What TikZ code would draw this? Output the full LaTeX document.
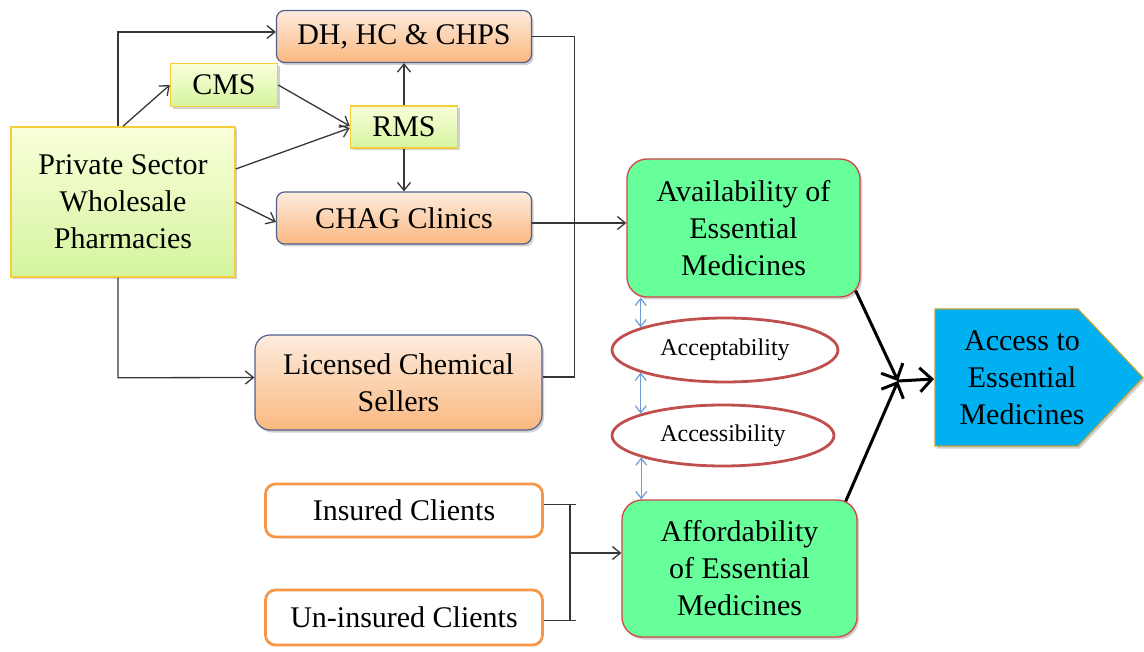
\documentclass[tikz,border=0pt]{standalone}
\usepackage{fontspec}
\setmainfont{Liberation Serif}
\usetikzlibrary{arrows.meta,shadows,shapes.geometric,calc}
\definecolor{orTop}{RGB}{253,236,222}
\definecolor{orBot}{RGB}{250,184,128}
\definecolor{boxblue}{RGB}{80,95,140}
\definecolor{ygTop}{RGB}{250,255,218}
\definecolor{ygBot}{RGB}{212,244,158}
\definecolor{ygBorder}{RGB}{245,205,60}
\definecolor{avGreen}{RGB}{102,255,153}
\definecolor{avRed}{RGB}{210,70,70}
\definecolor{ellRed}{RGB}{192,80,77}
\definecolor{clOrange}{RGB}{247,150,70}
\definecolor{accBlue}{RGB}{0,176,240}
\definecolor{accGold}{RGB}{196,160,48}
\definecolor{lineGray}{RGB}{55,55,55}
\definecolor{arrBlue}{RGB}{110,155,210}
\newcommand\mainfs{\fontsize{30}{37}\selectfont}
\newcommand\smallfs{\fontsize{24}{28}\selectfont}
\begin{document}
\begin{tikzpicture}[x=1pt,y=-1pt,
  every node/.style={inner sep=0pt, align=center, font=\mainfs},
  shad/.style={drop shadow={shadow xshift=2pt,shadow yshift=-2.5pt,opacity=0.3,fill=black!60}},
  orbox/.style={shape=rectangle, rounded corners=8pt, draw=boxblue, line width=1.2pt, top color=orTop, bottom color=orBot, shad},
  ygbox/.style={shape=rectangle, draw=ygBorder, line width=1.5pt, top color=ygTop, bottom color=ygBot, shad},
  greenbox/.style={shape=rectangle, rounded corners=20pt, draw=avRed, line width=1.3pt, fill=avGreen, shad},
  ellbox/.style={shape=ellipse, draw=ellRed, line width=2.8pt, fill=white, font=\smallfs},
  clientbox/.style={shape=rectangle, rounded corners=10pt, draw=clOrange, line width=2.8pt, fill=white},
  conn/.style={draw=lineGray, line width=1.3pt, -{Straight Barb[length=8pt,width=13pt]}},
  wire/.style={draw=lineGray, line width=1.3pt},
  bluearr/.style={draw=arrBlue, line width=1.2pt, {Straight Barb[length=7pt,width=11pt]}-{Straight Barb[length=7pt,width=11pt]}},
  thickarr/.style={draw=black, line width=3pt, -{Straight Barb[length=12pt,width=24pt]}},
  accshape/.style={fill=accBlue, draw=accGold, line width=1.2pt, shad}
]
\useasboundingbox (0,0) rectangle (1144,652);

% nodes
\node[orbox, minimum width=255pt, minimum height=52pt] (dh) at (404,36.5) {DH, HC \& CHPS};
\node[ygbox, minimum width=107pt, minimum height=43pt] (cms) at (224,85) {CMS};
\node[ygbox, minimum width=107pt, minimum height=42pt] (rms) at (404,127) {RMS};
\node[ygbox, minimum width=224pt, minimum height=150pt] (psw) at (123,202) {Private Sector\\Wholesale\\Pharmacies};
\node[orbox, minimum width=255pt, minimum height=52pt] (chag) at (404,218) {CHAG Clinics};
\node[orbox, rounded corners=15pt, minimum width=287pt, minimum height=95pt] (lcs) at (398.5,382.5) {Licensed Chemical\\Sellers};
\node[greenbox, minimum width=233pt, minimum height=138pt] (avail) at (743.5,228) {Availability of\\Essential\\Medicines};
\node[ellbox, minimum width=226pt, minimum height=64pt] (acc) at (725,350) {Acceptability};
\node[ellbox, minimum width=222pt, minimum height=61pt] (accs) at (723,435.5) {Accessibility};
\node[greenbox, minimum width=235pt, minimum height=137pt] (afford) at (739.5,568.5) {Affordability\\of Essential\\Medicines};
\node[clientbox, minimum width=277pt, minimum height=53pt] (ins) at (404,510.5) {Insured Clients};
\node[clientbox, minimum width=277pt, minimum height=55pt] (unins) at (404,617.5) {Un-insured Clients};

\path[accshape] (935,309) -- (1078,309) -- (1143,377.5) -- (1078,446) -- (935,446) -- cycle;
\node (access) at (1022,377.5) {Access to\\Essential\\Medicines};
\coordinate (accin) at (934,379);
\coordinate (merge) at (898,381);

% left connectors
\draw[conn] ([xshift=-5pt]psw.north) |- ([yshift=4.5pt]dh.west);
\draw[conn] (psw.north) -- (cms.west);
\draw[conn] (cms.east) -- ([yshift=1pt]rms.west);
\draw[conn] ([yshift=33pt]psw.east) -- ([yshift=-1pt]rms.west);
\draw[conn] (psw.east) -- ([yshift=-4pt]chag.west);
\draw[conn] (rms.north) -- (dh.south);
\draw[conn] (rms.south) -- (chag.north);
\draw[conn] ([xshift=-5pt]psw.south) -- ++(0,100) -- ([yshift=5pt]lcs.west);
\draw[wire] (dh.east) -- ++(42.5,0) |- ([yshift=5.5pt]lcs.east);
\draw[conn] ([yshift=-5pt]chag.east) coordinate (c1) -- (c1 -| avail.west);

% client bracket
\path ([xshift=26pt,yshift=6pt]ins.east) coordinate (b1)
      ([xshift=26pt,yshift=-3pt]unins.east) coordinate (b2)
      ([yshift=15.5pt]afford.west) coordinate (b3);
\draw[wire] ([yshift=6pt]ins.east) -- ++(32,0);
\draw[wire] ([yshift=-3pt]unins.east) -- ++(32,0);
\draw[wire] (b1) -- (b2);
\draw[conn] (b1 |- b3) -- (b3);

% blue double arrows
\draw[bluearr] (acc.165 |- avail.south) -- (acc.165);
\draw[bluearr] (acc.195) -- (acc.195 |- accs.165);
\draw[bluearr] (accs.195) -- (accs.195 |- afford.north);

% thick arrows
\draw[thickarr] ($(avail.south east)+(-5,-7)$) -- (merge);
\draw[thickarr] ($(afford.north east)+(-12,2)$) -- (merge);
\draw[thickarr] (merge) -- (accin);
\end{tikzpicture}
\end{document}
